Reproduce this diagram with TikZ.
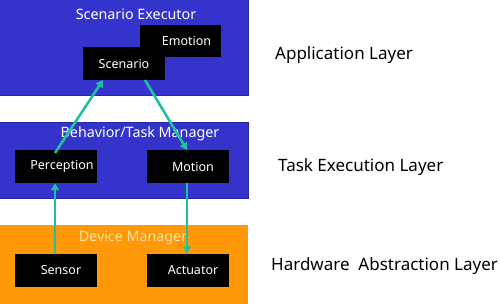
\documentclass[tikz,border=0pt]{standalone}
\usepackage{fontspec}
\setmainfont{Noto Sans}
\usetikzlibrary{arrows.meta}
\definecolor{layerblue}{RGB}{52,52,204}
\definecolor{layerblueedge}{RGB}{40,40,160}
\definecolor{layerorange}{RGB}{255,153,10}
\definecolor{arrowteal}{RGB}{32,192,160}
\definecolor{devtext}{RGB}{255,225,160}
\begin{document}
\begin{tikzpicture}[x=1pt,y=-1pt,
  bluelayer/.style={fill=layerblue,draw=layerblueedge,line width=0.8pt},
  orangelayer/.style={fill=layerorange,draw=none},
  module/.style={fill=black,draw=none,text=white,font=\fontsize{12.5}{14}\selectfont,minimum width=82pt,minimum height=33pt,inner sep=0pt},
  layertitle/.style={text=white,font=\fontsize{14.3}{16}\selectfont,inner sep=0pt},
  sidelabel/.style={text=black,font=\fontsize{17}{19}\selectfont,inner sep=0pt,anchor=west},
  flow/.style={draw=arrowteal,line width=2.6pt,-{Triangle[length=7pt,width=8pt]}}]
\useasboundingbox (0,0) rectangle (500,303);
\fill[white] (0,0) rectangle (500,303);
% layers
\path[bluelayer] (-1,-1) rectangle (248,95);
\path[bluelayer] (-1,122) rectangle (248,198);
\path[orangelayer] (-1,225) rectangle (248,304);
\node[layertitle] (exec) at (136,14) {Scenario Executor};
\node[layertitle] (btm) at (140,134) {Behavior/Task Manager};
% modules
\node[module,minimum width=81pt,minimum height=32pt] (emo) at (180.5,41) {\hspace*{12pt}Emotion};
\node[module,minimum width=82pt,minimum height=33pt] (scn) at (124,63.5) {Scenario};
\node[module] (per) at (56,166.5) {\hspace*{12pt}Perception};
\node[module] (mot) at (188,166.5) {\hspace*{10pt}Motion};
\node[module] (sen) at (56,270) {\hspace*{10pt}Sensor};
\node[module] (act) at (188,270) {\hspace*{10pt}Actuator};
\node[layertitle,text=devtext] (dev) at (133,238) {Device Manager};
% arrows
\coordinate (perTop) at (55,153);
\coordinate (scnBotL) at (103,80);
\coordinate (scnBotR) at (145,80);
\coordinate (motTop) at (187,150);
\draw[flow] (perTop) -- (scnBotL);
\draw[flow] (scnBotR) -- (motTop);
\draw[flow] (sen.north -| perTop) -- (per.south -| perTop);
\draw[flow] (mot.south -| motTop) -- (act.north -| motTop);
% side labels
\node[sidelabel] (app) at (275,55) {Application Layer};
\node[sidelabel] (task) at (278,167) {Task Execution Layer};
\node[sidelabel] (hal) at (271,266) {Hardware\ \ Abstraction Layer};
\end{tikzpicture}
\end{document}
